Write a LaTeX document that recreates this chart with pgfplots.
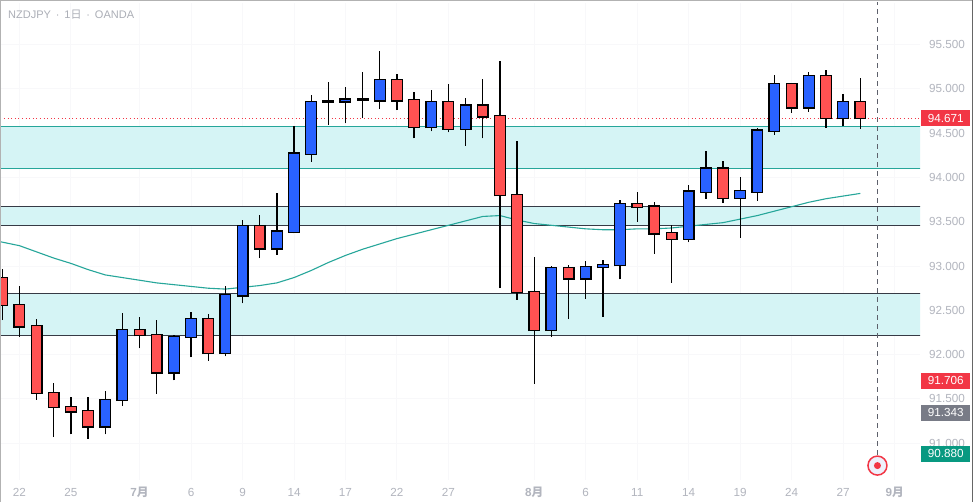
\documentclass[border=0pt]{standalone}
\usepackage{fontspec}
\setmainfont{Liberation Sans}
\newfontfamily\cjk{Noto Sans CJK JP}
\usepackage{pgfplots}
\usepackage{pgfplotstable}
\pgfplotsset{compat=1.18}

\definecolor{upc}{HTML}{2962FF}
\definecolor{dnc}{HTML}{FF5252}
\definecolor{bandc}{HTML}{D5F4F5}
\definecolor{tealc}{HTML}{26A69A}
\definecolor{darkc}{HTML}{363A45}
\definecolor{gridc}{HTML}{F8F8FA}
\definecolor{lblc}{HTML}{B2B5BE}
\definecolor{titlec}{HTML}{ABAEB6}
\definecolor{redbox}{HTML}{F23645}
\definecolor{graybox}{HTML}{787B86}
\definecolor{greenbox}{HTML}{089981}
\definecolor{dashc}{HTML}{5D606B}
\definecolor{circfill}{HTML}{EEF0FB}

% up (blue) candles: index, open, high, low, close
\pgfplotstableread{
i o h l c
6 91.19 91.59 91.10 91.49
7 91.49 92.47 91.42 92.28
10 91.80 92.22 91.71 92.20
11 92.20 92.48 91.97 92.40
13 92.02 92.78 91.98 92.67
14 92.67 93.52 92.58 93.45
16 93.20 93.83 93.13 93.39
17 93.39 94.58 93.37 94.27
18 94.27 94.93 94.18 94.85
19 94.86 95.08 94.59 94.86
20 94.86 95.02 94.61 94.88
21 94.88 95.19 94.67 94.88
22 94.87 95.43 94.77 95.10
25 94.57 94.99 94.52 94.85
27 94.55 94.90 94.36 94.81
32 92.28 93.00 92.20 92.98
34 92.86 93.06 92.63 92.99
35 92.99 93.07 92.43 93.01
36 93.01 93.75 92.85 93.70
40 93.31 93.92 93.27 93.84
41 93.84 94.30 93.76 94.10
43 93.77 94.01 93.32 93.85
44 93.84 94.56 93.74 94.53
45 94.53 95.16 94.48 95.05
47 94.79 95.19 94.74 95.14
49 94.67 94.94 94.58 94.85
}\upT

% down (red) candles
\pgfplotstableread{
i o h l c
0 92.86 92.97 92.39 92.56
1 92.56 92.77 92.20 92.32
2 92.32 92.40 91.49 91.57
3 91.57 91.68 91.07 91.41
4 91.41 91.52 91.10 91.36
5 91.36 91.52 91.05 91.19
8 92.28 92.43 92.07 92.22
9 92.22 92.39 91.56 91.80
12 92.40 92.46 91.93 92.02
15 93.45 93.58 93.09 93.20
23 95.10 95.17 94.76 94.87
24 94.87 94.97 94.44 94.57
26 94.85 95.05 94.51 94.55
28 94.81 95.11 94.44 94.69
29 94.69 95.31 92.75 93.80
30 93.80 94.41 92.62 92.71
31 92.71 93.10 91.67 92.28
33 92.98 93.01 92.40 92.86
37 93.70 93.84 93.50 93.67
38 93.67 93.72 93.14 93.37
39 93.37 93.46 92.81 93.31
42 94.10 94.19 93.71 93.77
46 95.05 95.06 94.73 94.79
48 95.14 95.21 94.56 94.67
50 94.85 95.12 94.55 94.671
}\dnT

% moving average
\pgfplotstableread{
i v
-1 93.31
0 93.27
1 93.23
2 93.16
3 93.09
4 93.03
5 92.96
6 92.90
7 92.87
8 92.84
9 92.81
10 92.79
11 92.77
12 92.75
13 92.74
14 92.76
15 92.78
16 92.81
17 92.87
18 92.95
19 93.04
20 93.12
21 93.19
22 93.25
23 93.31
24 93.36
25 93.41
26 93.46
27 93.51
28 93.56
29 93.57
30 93.52
31 93.48
32 93.46
33 93.44
34 93.42
35 93.41
36 93.41
37 93.42
38 93.42
39 93.43
40 93.45
41 93.47
42 93.49
43 93.53
44 93.57
45 93.62
46 93.67
47 93.72
48 93.76
49 93.79
50 93.82
}\maT

\pgfplotsset{
  candle/.style 2 args={draw=none, mark=none, forget plot,
    error bars/.cd, y dir=plus, y explicit, error mark=none,
    error bar style={line width=#1, draw=#2, solid}, /pgfplots/.cd},
}

\begin{document}
\begin{tikzpicture}[x=1pt,y=1pt]
\useasboundingbox (0,0) rectangle (975,502);
\fill[white] (0,0) rectangle (975,502);
\begin{axis}[
  at={(0,25)}, anchor=south west,
  width=920pt, height=477pt, scale only axis,
  xmin=-0.134, xmax=53.48, ymin=90.587, ymax=95.971,
  axis line style={draw=none},
  major tick length=0pt,
  xtick={1,4,8,11,14,17,20,23,26,31,34,37,40,43,46,49,52},
  xticklabels={22,25,{\bfseries 7\cjk\bfseries 月},6,9,14,17,22,27,{\bfseries 8\cjk\bfseries 月},6,11,14,19,24,27,{\bfseries 9\cjk\bfseries 月}},
  ytick={91,91.5,92,92.5,93,93.5,94,94.5,95,95.5},
  yticklabel pos=right,
  grid=major,
  major grid style={draw=gridc, line width=1pt},
  tick label style={font=\fontsize{11.7}{14}\selectfont, text=lblc},
  yticklabel style={/pgf/number format/.cd, fixed, fixed zerofill, precision=3, assume math mode=true, /tikz/.cd, anchor=west, inner sep=0pt, xshift=9pt},
  xticklabel style={anchor=base, inner sep=0pt, yshift=-17pt},
  clip=true,
]
% zones
\addplot[fill=bandc, draw=none] coordinates {(-2,94.097) (56,94.097) (56,94.579) (-2,94.579)} -- cycle;
\addplot[fill=bandc, draw=none] coordinates {(-2,93.462) (56,93.462) (56,93.676) (-2,93.676)} -- cycle;
\addplot[fill=bandc, draw=none] coordinates {(-2,92.220) (56,92.220) (56,92.694) (-2,92.694)} -- cycle;
\addplot[tealc, line width=1.2pt] coordinates {(-2,94.579) (56,94.579)};
\addplot[tealc, line width=1.2pt] coordinates {(-2,94.097) (56,94.097)};
\addplot[darkc, line width=1.2pt] coordinates {(-2,93.676) (56,93.676)};
\addplot[darkc, line width=1.2pt] coordinates {(-2,93.462) (56,93.462)};
\addplot[darkc, line width=1.2pt] coordinates {(-2,92.694) (56,92.694)};
\addplot[darkc, line width=1.2pt] coordinates {(-2,92.220) (56,92.220)};
% moving average
\addplot[tealc, line width=1.1pt, mark=none] table[x=i, y=v] {\maT};
% last price line
\addplot[redbox, line width=1pt, dash pattern=on 1pt off 2.6pt] coordinates {(-2,94.671) (56,94.671)};
% vertical dashed line
\addplot[dashc, line width=1pt, dash pattern=on 5pt off 4pt] coordinates {(51,90.87) (51,96.2)};
% wicks
\addplot[candle={1.3pt}{black}]
  table[x=i, y=l, y error plus expr=\thisrow{h}-\thisrow{l}] {\upT};
\addplot[candle={1.3pt}{black}]
  table[x=i, y=l, y error plus expr=\thisrow{h}-\thisrow{l}] {\dnT};
% bodies: outline
\addplot[candle={12pt}{black}]
  table[x=i, y expr=\thisrow{o}-0.014, y error plus expr=\thisrow{c}-\thisrow{o}+0.028] {\upT};
\addplot[candle={12pt}{black}]
  table[x=i, y expr=\thisrow{c}-0.014, y error plus expr=\thisrow{o}-\thisrow{c}+0.028] {\dnT};
% bodies: fill
\addplot[candle={9.4pt}{upc}]
  table[x=i, y=o, y error plus expr=\thisrow{c}-\thisrow{o}] {\upT};
\addplot[candle={9.4pt}{dnc}]
  table[x=i, y=c, y error plus expr=\thisrow{o}-\thisrow{c}] {\dnT};
\coordinate (p1) at (axis cs:53.48,94.671);
\coordinate (p2) at (axis cs:53.48,91.706);
\coordinate (p3) at (axis cs:53.48,91.343);
\coordinate (p4) at (axis cs:53.48,90.880);
\coordinate (circ) at (axis cs:51,90.748);
\end{axis}
% price labels
\foreach \p/\c/\t in {p1/redbox/94.671, p2/redbox/91.706, p3/graybox/91.343, p4/greenbox/90.880}{
  \node[anchor=west, fill=\c, text=white, minimum width=49pt, minimum height=16pt, inner sep=0pt,
    font=\fontsize{11.7}{14}\selectfont] at ([xshift=1pt]\p) {\t};
}
% marker icon
\fill[circfill] (circ) circle (9.5);
\draw[redbox, line width=1.5pt] (circ) circle (9.5);
\fill[redbox] (circ) circle (3.5);
% title
\node[anchor=west, text=titlec, font=\fontsize{11}{13}\selectfont, inner sep=0pt] at (8,487) {NZDJPY \,·\, 1{\cjk 日} \,·\, OANDA};
% frame
\draw[color=black!30, line width=1pt] (0.5,0) -- (0.5,501.5) -- (972.5,501.5);
\draw[color=black!60, line width=1pt] (972.8,0) -- (972.8,502);
\end{tikzpicture}
\end{document}
